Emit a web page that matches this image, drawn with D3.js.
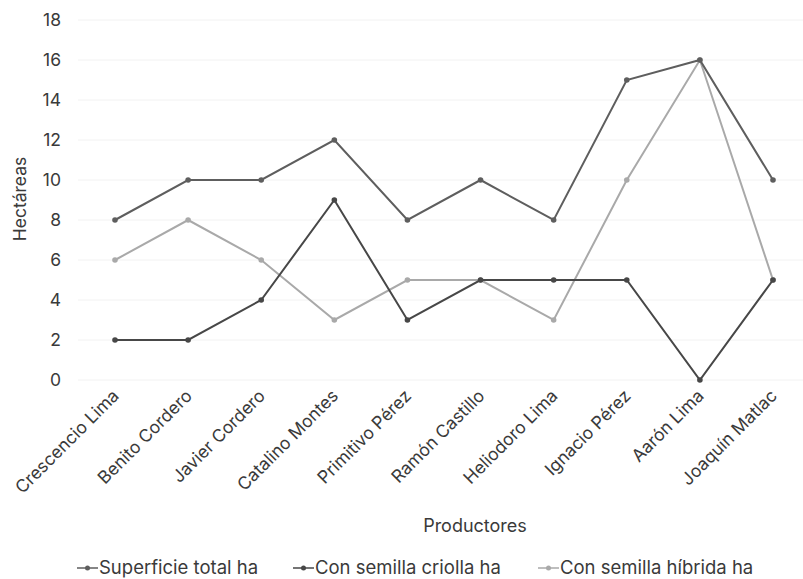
<!DOCTYPE html>
<html>
<head>
<meta charset="utf-8">
<script src="https://cdn.jsdelivr.net/npm/d3@7"></script>
<style>
  body { margin: 0; background: #fff; }
  text { font-family: Inter, "Open Sans", sans-serif; fill: #3a3a3a; }
</style>
</head>
<body>
<div id="chart"></div>
<script>
(function () {

  // Data
  const productores = ["Crescencio Lima", "Benito Cordero", "Javier Cordero", "Catalino Montes",
    "Primitivo Pérez", "Ramón Castillo", "Heliodoro Lima", "Ignacio Pérez", "Aarón Lima", "Joaquín Matlac"]
  const superficieTotal = [8, 10, 10, 12, 8, 10, 8, 15, 16, 10]
  const semillaCriolla = [2, 2, 4, 9, 3, 5, 5, 5, 0, 5]
  const semillaHibrida = [6, 8, 6, 3, 5, 5, 3, 10, 16, 5]
  const yTicks = [0, 2, 4, 6, 8, 10, 12, 14, 16, 18]

  const series = [
    { name: "Superficie total ha", values: superficieTotal, color: "#5e5e5e" },
    { name: "Con semilla criolla ha", values: semillaCriolla, color: "#474747" },
    { name: "Con semilla híbrida ha", values: semillaHibrida, color: "#a9a9a9" }
  ]

  const W = 803, H = 579

  const svg = d3.select("#chart").append("svg")
      .attr("width", W)
      .attr("height", H)

  const x = d3.scalePoint()
    .domain(productores)
    .range([115, 773])

  const y = d3.scaleLinear()
    .domain([0, 18])
    .range([380, 20])

  // Grid
  svg.append("g")
    .selectAll("line")
    .data(yTicks)
    .join("line")
      .attr("x1", 78).attr("x2", 803)
      .attr("y1", d => y(d)).attr("y2", d => y(d))
      .attr("stroke", "#f2f2f2")
      .attr("stroke-width", 1)

  // Y axis labels
  svg.append("g")
    .selectAll("text")
    .data(yTicks)
    .join("text")
      .attr("x", 61)
      .attr("y", d => y(d))
      .attr("dy", "0.35em")
      .attr("text-anchor", "end")
      .style("font-size", "17.5px")
      .text(d => d)

  // X axis labels
  svg.append("g")
    .selectAll("text")
    .data(productores)
    .join("text")
      .attr("transform", d => "translate(" + (x(d) + 5) + ",397) rotate(-45)")
      .attr("text-anchor", "end")
      .style("font-size", "17.5px")
      .text(d => d)

  // Axis titles
  svg.append("text")
    .attr("transform", "translate(26,199) rotate(-90)")
    .attr("text-anchor", "middle")
    .style("font-size", "17.5px")
    .text("Hectáreas")

  svg.append("text")
    .attr("x", 475).attr("y", 532)
    .attr("text-anchor", "middle")
    .style("font-size", "18px")
    .text("Productores")

  // Lines
  const line = d3.line()
    .x((d, i) => x(productores[i]))
    .y(d => y(d))

  const g = svg.append("g")
  series.slice().reverse().forEach(s => {
    g.append("path")
      .datum(s.values)
      .attr("fill", "none")
      .attr("stroke", s.color)
      .attr("stroke-width", 2)
      .attr("d", line)
    g.append("g")
      .selectAll("circle")
      .data(s.values)
      .join("circle")
        .attr("cx", (d, i) => x(productores[i]))
        .attr("cy", d => y(d))
        .attr("r", 2.8)
        .attr("fill", s.color)
  })

  // Legend
  const legendX = [77, 293, 538]
  const legend = svg.append("g")
    .selectAll("g")
    .data(series)
    .join("g")
      .attr("transform", (d, i) => "translate(" + legendX[i] + ",568)")
  legend.append("line")
    .attr("x1", 0).attr("x2", 21)
    .attr("stroke", d => d.color)
    .attr("stroke-width", 1.5)
  legend.append("circle")
    .attr("cx", 10.5).attr("r", 2.5)
    .attr("fill", d => d.color)
  legend.append("text")
    .attr("x", 22)
    .attr("dy", "0.35em")
    .style("font-size", "18.5px")
    .text(d => d.name)

})();
</script>
</body>
</html>
